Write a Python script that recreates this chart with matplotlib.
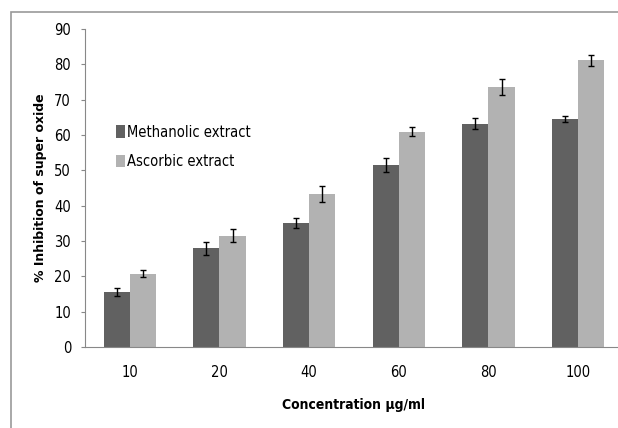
import numpy as np
import matplotlib.pyplot as plt
from matplotlib.patches import Rectangle

concentrations = ["10", "20", "40", "60", "80", "100"]
methanolic = [15.5, 27.9, 35.1, 51.4, 63.2, 64.6]
methanolic_err = [1.1, 1.8, 1.4, 2.0, 1.6, 0.9]
ascorbic = [20.8, 31.5, 43.3, 60.9, 73.5, 81.1]
ascorbic_err = [1.1, 1.8, 2.2, 1.3, 2.3, 1.5]

plt.rcParams["font.family"] = ["DejaVu Sans"]
plt.rcParams["font.stretch"] = "condensed"

fig = plt.figure(figsize=(6.18, 4.28), dpi=100)
ax = fig.add_axes([85 / 618, 81 / 428, 538 / 618, 318 / 428])

x = np.arange(len(concentrations))
w = 0.29
ax.bar(x - w / 2, methanolic, w, color="#616161", label="Methanolic extract",
       yerr=methanolic_err, error_kw=dict(ecolor="black", elinewidth=1, capsize=2.5, capthick=1))
ax.bar(x + w / 2, ascorbic, w, color="#b2b2b2", label="Ascorbic extract",
       yerr=ascorbic_err, error_kw=dict(ecolor="black", elinewidth=1, capsize=2.5, capthick=1))

ax.set_xlim(-0.5, len(concentrations) - 0.5)
ax.set_ylim(0, 90)
ax.set_yticks(range(0, 91, 10))
ax.set_xticks(x)
ax.set_xticklabels(concentrations)
ax.tick_params(axis="x", length=0, pad=13, labelsize=10.5)
ax.tick_params(axis="y", length=3, color="#888888", labelsize=10.5, pad=7)

for s in ["top", "right"]:
    ax.spines[s].set_visible(False)
for s in ["left", "bottom"]:
    ax.spines[s].set_color("#888888")

ax.set_ylabel("% Inhibition of super oxide", fontweight="bold", fontstretch="normal",
              fontsize=9, labelpad=5)
ax.set_xlabel("Concentration µg/ml", fontweight="bold", fontsize=10, labelpad=13)

ax.legend(loc="upper left", bbox_to_anchor=(0.058 - 7 / 538, 0.735 - 4 / 318), frameon=False,
          fontsize=10.5, handlelength=0.55, handleheight=0.9, handletextpad=0.15,
          labelspacing=1.0, borderpad=0)

fig.patches.append(Rectangle((11 / 618, -0.1), 2, 1.1 - 12 / 428, transform=fig.transFigure,
                             fill=False, edgecolor="#999999", linewidth=1.2))

fig.savefig("out.png", dpi=100)
